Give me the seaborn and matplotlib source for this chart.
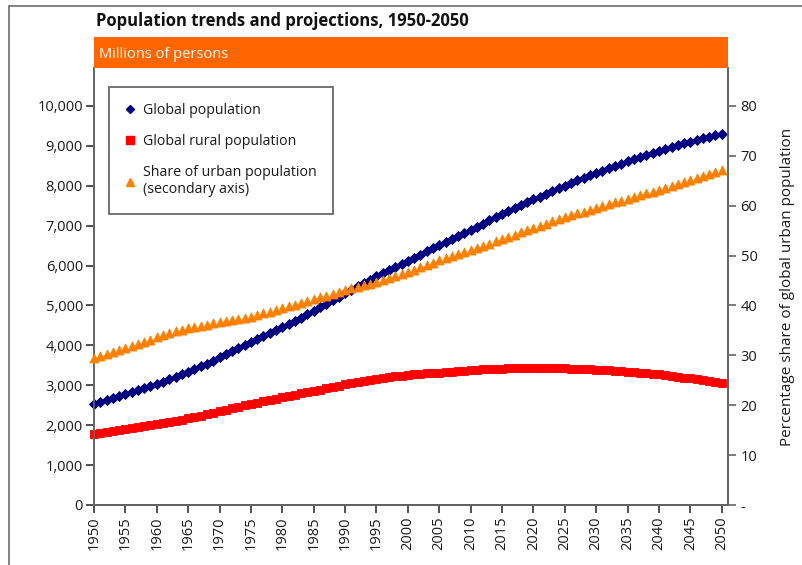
import matplotlib
matplotlib.use("Agg")
import matplotlib.pyplot as plt
import seaborn as sns
import pandas as pd
from matplotlib.patches import Rectangle
from matplotlib.lines import Line2D
from matplotlib.ticker import FuncFormatter

# ---- data ----
years = list(range(1950, 2051))

global_population = [
    2532, 2580, 2628, 2676, 2724, 2773,
    2824, 2876, 2929, 2983, 3038,
    3093, 3150, 3209, 3270, 3333,
    3402, 3472, 3544, 3619, 3696,
    3773, 3850, 3926, 4001, 4076,
    4150, 4225, 4300, 4376, 4453,
    4532, 4613, 4696, 4779, 4863,
    4950, 5037, 5125, 5215, 5306,
    5391, 5476, 5560, 5643, 5726,
    5806, 5886, 5965, 6044, 6123,
    6199, 6276, 6353, 6430, 6507,
    6584, 6662, 6740, 6818, 6896,
    6974, 7052, 7130, 7207, 7284,
    7360, 7435, 7510, 7584, 7657,
    7727, 7797, 7866, 7935, 8003,
    8068, 8133, 8197, 8259, 8321,
    8380, 8439, 8497, 8555, 8612,
    8666, 8719, 8771, 8823, 8874,
    8922, 8969, 9015, 9061, 9106,
    9148, 9189, 9229, 9268, 9306,
]

rural_population = [
    1790, 1810, 1832, 1854, 1877, 1900,
    1923, 1946, 1970, 1995, 2020,
    2047, 2075, 2105, 2137, 2170,
    2205, 2241, 2277, 2313, 2350,
    2386, 2422, 2458, 2494, 2530,
    2564, 2598, 2632, 2666, 2700,
    2732, 2764, 2796, 2828, 2860,
    2892, 2924, 2956, 2988, 3020,
    3049, 3077, 3105, 3133, 3160,
    3181, 3202, 3222, 3241, 3260,
    3273, 3285, 3297, 3309, 3320,
    3332, 3344, 3356, 3368, 3380,
    3389, 3397, 3405, 3413, 3420,
    3425, 3429, 3433, 3437, 3440,
    3438, 3435, 3432, 3429, 3425,
    3418, 3411, 3404, 3397, 3390,
    3381, 3371, 3361, 3351, 3340,
    3327, 3313, 3299, 3285, 3270,
    3251, 3232, 3212, 3191, 3170,
    3147, 3123, 3099, 3075, 3050,
]

urban_share = [
    29.4, 29.8, 30.2, 30.6, 31.0, 31.4,
    31.8, 32.2, 32.7, 33.1, 33.6,
    34.0, 34.4, 34.8, 35.1, 35.5,
    35.7, 35.9, 36.1, 36.4, 36.6,
    36.8, 37.0, 37.2, 37.5, 37.7,
    38.0, 38.4, 38.7, 39.1, 39.4,
    39.8, 40.1, 40.5, 40.8, 41.2,
    41.6, 41.9, 42.3, 42.6, 43.0,
    43.4, 43.7, 44.1, 44.4, 44.8,
    45.2, 45.6, 45.9, 46.3, 46.7,
    47.2, 47.7, 48.1, 48.6, 49.1,
    49.5, 49.9, 50.3, 50.7, 51.1,
    51.5, 52.0, 52.4, 52.9, 53.3,
    53.8, 54.2, 54.7, 55.1, 55.6,
    56.0, 56.4, 56.9, 57.3, 57.7,
    58.1, 58.5, 58.8, 59.2, 59.6,
    60.0, 60.3, 60.7, 61.0, 61.4,
    61.8, 62.1, 62.5, 62.8, 63.2,
    63.6, 64.0, 64.4, 64.8, 65.2,
    65.6, 66.0, 66.4, 66.8, 67.2,
]

x_ticks = list(range(1950, 2051, 5))
left_ticks = list(range(0, 10001, 1000))
right_ticks = list(range(0, 81, 10))

df = pd.DataFrame({
    "year": years,
    "global": global_population,
    "rural": rural_population,
    "urban": urban_share,
})

# ---- style ----
sns.set_theme(style="white")
plt.rcParams["font.family"] = ["Open Sans", "DejaVu Sans"]

NAVY = "#000080"
RED = "#FF0000"
ORANGE = "#FF8000"
BAND = "#FF6600"
SPINE = "#666666"
TXT = "#1a1a1a"

fig = plt.figure(figsize=(8.03, 5.65), dpi=100)
ax = fig.add_axes([94 / 803, 1 - 505 / 565, (728 - 94) / 803, (505 - 68) / 565])
ax2 = ax.twinx()

sns.scatterplot(data=df, x="year", y="global", ax=ax, marker="D", s=26,
                color=NAVY, edgecolor=NAVY, linewidth=0.6, clip_on=False, zorder=4)
sns.scatterplot(data=df, x="year", y="rural", ax=ax, marker="s", s=34,
                color=RED, edgecolor=RED, linewidth=0.6, clip_on=False, zorder=3)
sns.scatterplot(data=df, x="year", y="urban", ax=ax2, marker="^", s=42,
                color=ORANGE, edgecolor=ORANGE, linewidth=0.6, clip_on=False, zorder=3)

ax.set_xlim(1950, 2051)
ax.set_ylim(0, 10950)
ax2.set_ylim(0, 10950 / 125)

ax.set_xticks(x_ticks)
ax.set_xticklabels([str(t) for t in x_ticks], rotation=90, fontsize=10.5, color=TXT)
ax.set_yticks(left_ticks)
ax.yaxis.set_major_formatter(FuncFormatter(lambda v, p: f"{int(v):,}"))
ax2.set_yticks(right_ticks)
ax2.yaxis.set_major_formatter(FuncFormatter(lambda v, p: "-" if v == 0 else f"{int(v)}"))

ax.set_xlabel("")
ax.set_ylabel("")
ax2.set_ylabel("Percentage share of global urban population", fontsize=11,
               color=TXT, labelpad=16)

for a in (ax, ax2):
    for s in a.spines.values():
        s.set_color(SPINE)
        s.set_linewidth(1.3)
    a.spines["top"].set_visible(False)
ax.spines["bottom"].set_color("#333333")
ax.tick_params(axis="both", direction="out", length=6, width=1.2, color="#333333",
               labelsize=10.5, labelcolor=TXT, pad=2, left=True, bottom=True)
ax2.tick_params(axis="y", direction="out", length=6, width=1.2, color=SPINE,
                labelsize=10.5, labelcolor=TXT, pad=3, right=True)

# orange header band
fig.patches.append(Rectangle((94 / 803, 1 - 68 / 565), (728 - 94) / 803, 31 / 565,
                             transform=fig.transFigure, facecolor=BAND,
                             edgecolor="none", zorder=1))
fig.text(99 / 803, 1 - 54 / 565, "Millions of persons", color="white",
         fontsize=10.5, va="center", ha="left")
fig.text(96 / 803, 1 - 21 / 565, "Population trends and projections, 1950-2050",
         fontsize=12, fontweight="bold", va="center", ha="left", color="#111111")

# outer frame lines (top and left)
fig.add_artist(Line2D([9 / 803, 1.0], [1 - 5.5 / 565, 1 - 5.5 / 565],
                      transform=fig.transFigure, color="#777777", linewidth=1.3))
fig.add_artist(Line2D([9 / 803, 9 / 803], [0, 1 - 5.5 / 565],
                      transform=fig.transFigure, color="#777777", linewidth=1.3))

# legend
handles = [
    Line2D([], [], marker="D", linestyle="none", color=NAVY, markersize=4.5),
    Line2D([], [], marker="s", linestyle="none", color=RED, markersize=5.5),
    Line2D([], [], marker="^", linestyle="none", color=ORANGE, markersize=6),
]
labels = ["Global population", "Global rural population",
          "Share of urban population\n(secondary axis)"]
if ax.get_legend() is not None:
    ax.get_legend().remove()
if ax2.get_legend() is not None:
    ax2.get_legend().remove()
leg = ax2.legend(handles, labels, loc="upper left",
                 bbox_to_anchor=((109 - 94) / 634, (505 - 87) / 437),
                 frameon=True, fancybox=False, fontsize=10.2, handlelength=0.7,
                 handletextpad=0.55, labelspacing=1.12, borderpad=1.15,
                 borderaxespad=0)
leg.get_frame().set_edgecolor("#333333")
leg.get_frame().set_linewidth(1.2)
for t in leg.get_texts():
    t.set_color(TXT)
    t.set_linespacing(1.2)

fig.savefig("out.png", dpi=100)
